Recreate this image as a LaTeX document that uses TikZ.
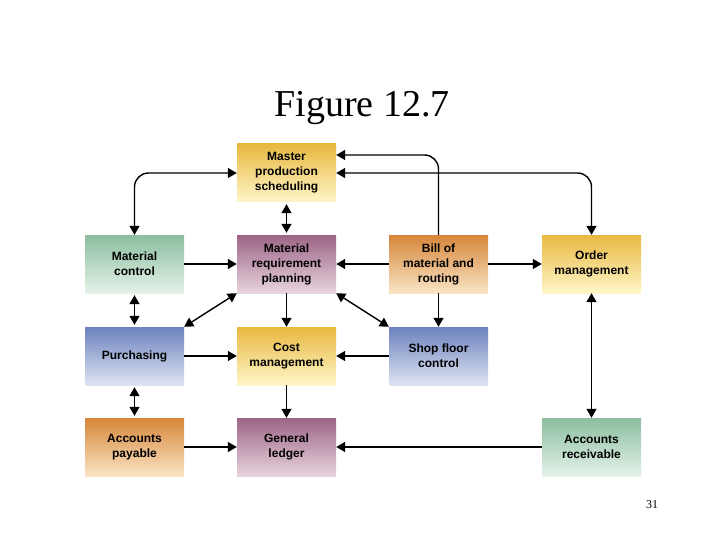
\documentclass[tikz,border=0pt]{standalone}
\usepackage{fontspec}
\setmainfont{Liberation Serif}
\newfontfamily\boxfont{Liberation Sans}
\usetikzlibrary{arrows.meta}
\begin{document}
\begin{tikzpicture}[x=1pt,y=-1pt,
  box/.style={minimum width=99pt,minimum height=58pt,inner sep=0pt,align=center,
    font=\boxfont\bfseries\fontsize{12}{15}\selectfont},
  yel/.style={box,top color={rgb,255:red,232;green,184;blue,64},bottom color={rgb,255:red,255;green,246;blue,200}},
  grn/.style={box,top color={rgb,255:red,140;green,190;blue,160},bottom color={rgb,255:red,228;green,242;blue,232}},
  pur/.style={box,top color={rgb,255:red,156;green,100;blue,132},bottom color={rgb,255:red,232;green,212;blue,222}},
  org/.style={box,top color={rgb,255:red,214;green,134;blue,58},bottom color={rgb,255:red,250;green,228;blue,196}},
  blu/.style={box,top color={rgb,255:red,108;green,130;blue,190},bottom color={rgb,255:red,222;green,228;blue,242}},
  ar/.style={line width=1.4pt,-{Triangle[length=9pt,width=10pt]}},
  dar/.style={line width=1.4pt,{Triangle[length=9pt,width=10pt]}-{Triangle[length=9pt,width=10pt]}}]
\useasboundingbox (0,0) rectangle (720,540);
\node (title) at (362,108) {\fontsize{38}{40}\selectfont Figure 12.7};
\node (pg) at (652,505) {\fontsize{12}{14}\selectfont 31};
\node[yel] (mps) at (286.5,173) {Master\\production\\scheduling};
\node[grn] (mc) at (134.5,264) {Material\\control};
\node[pur] (mrp) at (286.5,264) {Material\\requirement\\planning};
\node[org] (bom) at (438.5,264) {Bill of\\material and\\routing};
\node[yel] (om) at (591.5,264) {Order\\management};
\node[blu] (pu) at (134.5,356) {Purchasing};
\node[yel] (cm) at (286.5,356) {Cost\\management};
\node[blu] (sf) at (438.5,356) {Shop floor\\control};
\node[org] (ap) at (134.5,447) {Accounts\\payable};
\node[pur] (gl) at (286.5,447) {General\\ledger};
\node[grn] (ar) at (591.5,447) {Accounts\\receivable};
\draw[dar,rounded corners=14pt] (mc.north) |- (mps.west);
\draw[dar,rounded corners=14pt] (om.north) |- (mps.east);
\draw[ar,rounded corners=14pt] (bom.north) |- ([yshift=18pt]mps.east);
\draw[dar] ([yshift=-2pt]mps.south) -- ([yshift=2pt]mrp.north);
\draw[ar] (mc) -- (mrp);
\draw[ar] (bom) -- (mrp);
\draw[ar] (bom) -- (om);
\draw[dar] ([yshift=-2pt]mc.south) -- ([yshift=2pt]pu.north);
\draw[dar] (mrp.south west) -- (pu.north east);
\draw[dar] (mrp.south east) -- (sf.north west);
\draw[ar] (mrp) -- (cm);
\draw[ar] (bom) -- (sf);
\draw[ar] (pu) -- (cm);
\draw[ar] (sf) -- (cm);
\draw[ar] (cm) -- (gl);
\draw[dar] ([yshift=-2pt]pu.south) -- ([yshift=2pt]ap.north);
\draw[dar] (om) -- (ar);
\draw[ar] (ap) -- (gl);
\draw[ar] (ar) -- (gl);
\end{tikzpicture}
\end{document}
